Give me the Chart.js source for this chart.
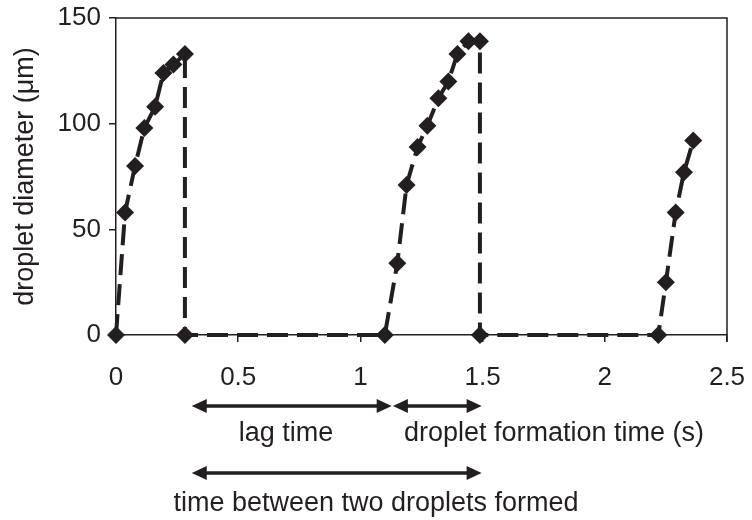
<!DOCTYPE html>
<html>
<head>
<meta charset="utf-8">
<script src="https://cdn.jsdelivr.net/npm/chart.js@4.4.1/dist/chart.umd.min.js"></script>
<style>
    html, body { margin: 0; padding: 0; background: #fff; }
    #wrap { width: 752px; height: 520px; }
</style>
</head>
<body>
<div id="wrap"><canvas id="myChart" width="752" height="520"></canvas></div>
<script>
// ============================================================================
// データ (時間 s / 液滴径 μm)
// ============================================================================

const timeS = [0, 0.037, 0.078, 0.116, 0.16, 0.194, 0.235, 0.282, 0.282,
    1.10, 1.151, 1.189, 1.234, 1.274, 1.319, 1.36, 1.397, 1.442, 1.489, 1.489,
    2.219, 2.25, 2.29, 2.324, 2.362];
const diameterUm = [0, 58, 80, 98, 108, 124, 128, 133, 0,
    0, 34, 71, 89, 99, 112, 120, 133, 139, 139, 0,
    0, 25, 58, 77, 92];

const xTicks = [0, 0.5, 1, 1.5, 2, 2.5];
const yTicks = [0, 50, 100, 150];

// 矢印の区間 (s)
const lagSpan = [0.31, 1.128];
const formationSpan = [1.133, 1.496];
const betweenSpan = [0.31, 1.496];

const points = timeS.map((t, i) => ({ x: t, y: diameterUm[i] }));

const ink = "#231f20";
const fontFamily = "'Liberation Sans', Arial, Helvetica, sans-serif";

// ============================================================================
// 下の矢印と説明文を描くプラグイン
// ============================================================================

const drawArrow = (c, x1, x2, y, leftHead, rightHead) => {
    const hl = 15, hw = 7;
    c.beginPath();
    c.moveTo(leftHead ? x1 + hl - 2 : x1, y);
    c.lineTo(rightHead ? x2 - hl + 2 : x2, y);
    c.stroke();
    if (leftHead) {
        c.beginPath();
        c.moveTo(x1, y);
        c.lineTo(x1 + hl, y - hw);
        c.lineTo(x1 + hl, y + hw);
        c.closePath();
        c.fill();
    }
    if (rightHead) {
        c.beginPath();
        c.moveTo(x2, y);
        c.lineTo(x2 - hl, y - hw);
        c.lineTo(x2 - hl, y + hw);
        c.closePath();
        c.fill();
    }
}

const notes = {
    id: "notes",
    beforeDatasetsDraw(chart) {
        // 枠の上辺と右辺
        const { ctx: c, chartArea: a } = chart;
        c.save();
        c.strokeStyle = ink;
        c.lineWidth = 1.5;
        c.beginPath();
        c.moveTo(a.left, a.top);
        c.lineTo(a.right, a.top);
        c.lineTo(a.right, a.bottom + 7);
        c.stroke();
        c.restore();
    },
    afterDraw(chart) {
        const c = chart.ctx;
        const xs = chart.scales.x;
        const px = (v) => xs.getPixelForValue(v);
        c.save();
        c.strokeStyle = ink;
        c.fillStyle = ink;
        c.lineWidth = 3.5;
        drawArrow(c, px(lagSpan[0]), px(lagSpan[1]), 406, true, true);
        drawArrow(c, px(formationSpan[0]), px(formationSpan[1]), 406, true, true);
        drawArrow(c, px(betweenSpan[0]), px(betweenSpan[1]), 473, true, true);

        c.font = "27px " + fontFamily;
        c.textAlign = "center";
        c.textBaseline = "alphabetic";
        c.fillText("lag time", 286, 441);
        c.fillText("droplet formation time (s)", 554, 441);
        c.fillText("time between two droplets formed", 376, 511);
        c.restore();
    },
};

// ============================================================================
// グラフ本体
// ============================================================================

const ctx = document.getElementById("myChart");

if (ctx) {
    new Chart(ctx, {
        type: "line",
        data: {
            datasets: [
                {
                    data: points,
                    borderColor: ink,
                    backgroundColor: ink,
                    borderWidth: 4,
                    borderDash: [21, 9],
                    pointStyle: "rectRot",
                    pointRadius: 9,
                    pointHoverRadius: 9,
                    pointBorderWidth: 0,
                    pointBackgroundColor: ink,
                    tension: 0,
                    clip: false,
                },
            ],
        },
        options: {
            responsive: false,
            animation: false,
            events: [],
            layout: { padding: { top: 18, right: 25, bottom: 0, left: 0 } },
            plugins: {
                legend: { display: false },
                tooltip: { enabled: false },
            },
            scales: {
                x: {
                    type: "linear",
                    min: 0,
                    max: 2.5,
                    afterBuildTicks: (s) => { s.ticks = xTicks.map((v) => ({ value: v })); },
                    afterFit: (s) => {
                        s.height = 185;
                        s.paddingLeft = 0;
                        s.paddingRight = 0;
                    },
                    grid: { drawOnChartArea: false, tickLength: 7, color: ink, lineWidth: 1.5 },
                    border: { color: ink, width: 1.5 },
                    ticks: {
                        color: ink,
                        padding: 20,
                        maxRotation: 0,
                        callback: (v) => String(v),
                        font: { family: fontFamily, size: 26 },
                    },
                },
                y: {
                    min: 0,
                    max: 150,
                    afterBuildTicks: (s) => { s.ticks = yTicks.map((v) => ({ value: v })); },
                    afterFit: (s) => {
                        s.width = 116;
                        s.paddingTop = 0;
                        s.paddingBottom = 0;
                    },
                    grid: { drawOnChartArea: false, tickLength: 7, color: ink, lineWidth: 1.5 },
                    border: { color: ink, width: 1.5 },
                    ticks: {
                        color: ink,
                        padding: 8,
                        callback: (v) => String(v),
                        font: { family: fontFamily, size: 26 },
                    },
                    title: {
                        display: true,
                        text: "droplet diameter (μm)",
                        color: ink,
                        padding: { top: 9, bottom: 0 },
                        font: { family: fontFamily, size: 27 },
                    },
                },
            },
        },
        plugins: [notes],
    });
}
</script>
</body>
</html>
